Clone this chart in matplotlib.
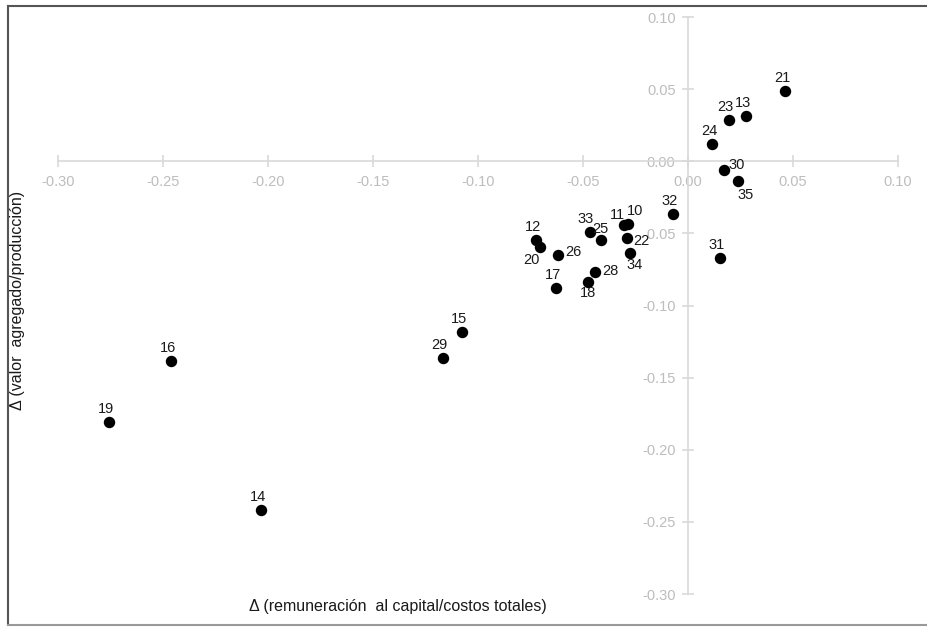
import matplotlib
matplotlib.use("Agg")
import matplotlib.pyplot as plt
from matplotlib.lines import Line2D

################################################################################
# data ----
################################################################################

sectors = [21, 23, 13, 24, 30, 35, 32, 31, 10, 11, 33, 25, 22, 34,
           12, 20, 26, 28, 18, 17, 15, 29, 16, 19, 14]
d_capital = [0.0463, 0.0193, 0.0277, 0.0114, 0.0173, 0.0238, -0.0072, 0.0152,
             -0.0288, -0.0304, -0.0467, -0.0413, -0.0291, -0.0276,
             -0.0724, -0.0706, -0.0621, -0.0443, -0.0478, -0.0627,
             -0.1078, -0.1169, -0.2462, -0.2756, -0.2033]
d_valor = [0.0485, 0.0286, 0.0316, 0.0118, -0.0060, -0.0139, -0.0368, -0.0671,
           -0.0432, -0.0444, -0.0490, -0.0546, -0.0534, -0.0636,
           -0.0548, -0.0592, -0.0650, -0.0770, -0.0835, -0.0876,
           -0.1184, -0.1362, -0.1385, -0.1806, -0.2418]
ticks = [-0.30, -0.25, -0.20, -0.15, -0.10, -0.05, 0.00, 0.05, 0.10]

# label offsets in pixels (dx, dy) from the dot; default is above
label_offset = {30: (12, 5), 35: (8, -14), 10: (8, 13), 11: (-7, 10),
                33: (-4, 13), 25: (-1, 11),
                22: (14, -3), 34: (5, -12), 20: (-8, -13), 26: (16, 3),
                28: (15, 1), 18: (0, -11)}

################################################################################
# plot ----
################################################################################

plt.rcParams['font.family'] = ['Liberation Sans', 'DejaVu Sans']
grey = '#d9d9d9'
tick_grey = '#bdbdbd'

fig = plt.figure(figsize=(9.27, 6.27), dpi=100)
ax = fig.add_axes([58 / 927, 33 / 627, 840 / 927, 577 / 627])

ax.scatter(d_capital, d_valor, s=52, color='black', zorder=3, clip_on=False)

for s, x, y in zip(sectors, d_capital, d_valor):
    dx, dy = label_offset.get(s, (-3, 13))
    ax.annotate(str(s), (x, y), xytext=(dx * 0.72, dy * 0.72),
                textcoords='offset points', ha='center', va='center',
                fontsize=10.5, color='#1a1a1a')

ax.set_xlim(-0.30, 0.10)
ax.set_ylim(-0.30, 0.10)
ax.set_xticks(ticks)
ax.set_yticks(ticks)
ax.set_xticklabels([f"{t:.2f}" for t in ticks])
ax.set_yticklabels([f"{t:.2f}" for t in ticks])

for side in ['top', 'right']:
    ax.spines[side].set_visible(False)
ax.spines['left'].set_position(('data', 0))
ax.spines['bottom'].set_position(('data', 0))
for side in ['left', 'bottom']:
    ax.spines[side].set_color(grey)
    ax.spines[side].set_linewidth(1.2)

ax.tick_params(axis='both', direction='inout', length=8, width=1.2,
               color=grey, labelcolor=tick_grey, labelsize=10.5)
ax.tick_params(axis='x', pad=6)
ax.tick_params(axis='y', pad=5)
ax.patch.set_visible(False)

fig.text(398 / 927, 1 - 607 / 627, 'Δ (remuneración  al capital/costos totales)',
         ha='center', va='center', fontsize=11.5, color='#1a1a1a')
fig.text(18 / 927, 1 - 300 / 627, 'Δ (valor  agregado/producción)',
         ha='center', va='center', rotation=90, fontsize=11.5, color='#1a1a1a')

# outer frame: left, top, bottom
fig.add_artist(Line2D([8 / 927, 8 / 927], [1 - 6 / 627, 1 - 625 / 627],
                      transform=fig.transFigure, color='#555555', lw=1.5))
fig.add_artist(Line2D([8 / 927, 1], [1 - 6 / 627, 1 - 6 / 627],
                      transform=fig.transFigure, color='#555555', lw=1.5))
fig.add_artist(Line2D([8 / 927, 1], [1 - 625 / 627, 1 - 625 / 627],
                      transform=fig.transFigure, color='#999999', lw=1.5))

fig.savefig('out.png', dpi=100)
